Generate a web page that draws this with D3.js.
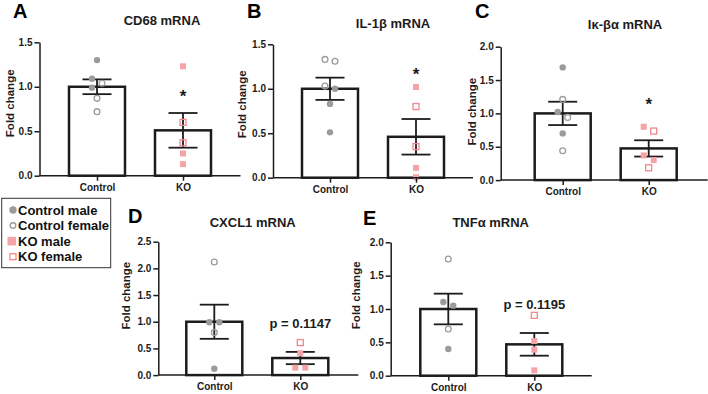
<!DOCTYPE html>
<html>
<head>
<meta charset="utf-8">
<script src="https://cdn.jsdelivr.net/npm/d3@7"></script>
<style>
  body { margin: 0; background: #fff; }
  svg { font-family: "Liberation Sans", Arial, sans-serif; font-weight: bold; }
</style>
</head>
<body>
<div id="chart"></div>
<script>
// ---- data ----
const groups = ["Control", "KO"]
const letters = ["A", "B", "C", "D", "E"]
const titles = ["CD68 mRNA", "IL-1β mRNA", "Iκ-βα mRNA", "CXCL1 mRNA", "TNFα mRNA"]
const yMax = [1.5, 1.5, 2.0, 2.5, 2.0]

const ctrlMean = [1.0, 1.0, 1.0, 1.0, 1.0]
const ctrlSem = [0.083, 0.125, 0.175, 0.32, 0.23]
const koMean = [0.51, 0.46, 0.475, 0.32, 0.47]
const koSem = [0.195, 0.2, 0.122, 0.115, 0.17]

const ctrlMale = [[1.30, 1.09, 0.99], [1.00, 0.83, 0.51], [1.69, 1.02, 0.70], [0.99, 0.99, 0.12], [1.105, 1.05, 0.40]]
const ctrlFemale = [[1.04, 0.87, 0.72], [1.31, 1.33, 1.03], [1.21, 0.94, 0.44], [2.12, 0.80], [1.75, 0.70]]
const koMale = [[1.23, 0.25, 0.13], [1.02, 0.11, 0.005], [0.80, 0.37, 0.30], [0.41, 0.14, 0.14], [0.52, 0.39, 0.08]]
const koFemale = [[0.60, 0.37], [0.80, 0.35], [0.735, 0.185], [0.61], [0.905]]

// significance marks above the KO bar (value = text baseline)
const markText = ["*", "*", "*", "p = 0.1147", "p = 0.1195"]
const markVal = [0.83, 1.10, 1.05, 0.88, 1.0]

const legendLabels = ["Control male", "Control female", "KO male", "KO female"]

// ---- layout ----
const W = 708, H = 394
const panels = [
  {x: 39.5, y: 42.3, w: 201, cx: 57.5, title: [162, 25], letter: [13, 18.3], ylab: [-29.5, 61]},
  {x: 273, y: 44.3, w: 200, cx: 57, title: [393, 28], letter: [247, 18.3], ylab: [-31, 60]},
  {x: 500.7, y: 46.7, w: 207, cx: 62, title: [625, 29], letter: [475, 17.5], ylab: [-28.5, 65]},
  {x: 158.3, y: 241.7, w: 200, cx: 56, title: [252.7, 227], letter: [128, 223], ylab: [-32, 54]},
  {x: 390.7, y: 242.3, w: 201, cx: 57.6, title: [490.7, 227], letter: [363, 225], ylab: [-35, 53]}
]
const plotH = 133.4, step = 86, barW = 56, capW = 29

const gray = "#9b9b9b", pink = "#f4a3a6", pinkLine = "#f0878c", ink = "#1c1c1c"

const svg = d3.select("#chart").append("svg")
  .attr("width", W).attr("height", H)

// spread points that sit on top of each other, like the prism scatter
function spread(pts, y) {
  pts.sort((a, b) => b.v - a.v)
  let cluster = []
  const out = []
  const flush = () => {
    cluster.forEach((p, i) => { p.dx = cluster.length === 1 ? 0 : (i % 2 === 0 ? -5 : 5); out.push(p) })
    cluster = []
  }
  pts.forEach(p => {
    if (cluster.length && y(p.v) - y(cluster[cluster.length - 1].v) >= 7) flush()
    cluster.push(p)
  })
  flush()
  return out
}

panels.forEach((P, i) => {
  const g = svg.append("g").attr("transform", `translate(${P.x},${P.y})`)

  const y = d3.scaleLinear().domain([0, yMax[i]]).range([plotH, 0])
  const x = d3.scalePoint().domain(groups).range([P.cx, P.cx + step])

  const bars = [
    {key: "Control", mean: ctrlMean[i], sem: ctrlSem[i]},
    {key: "KO", mean: koMean[i], sem: koSem[i]}
  ]

  // bars
  g.selectAll("rect.bar").data(bars).join("rect")
    .attr("class", "bar")
    .attr("x", d => x(d.key) - barW / 2)
    .attr("y", d => y(d.mean))
    .attr("width", barW)
    .attr("height", d => y(0) - y(d.mean))
    .attr("fill", "#fff")
    .attr("stroke", ink)
    .attr("stroke-width", 2.5)

  // error bars
  const eb = g.selectAll("g.err").data(bars).join("g").attr("class", "err")
    .attr("stroke", ink).attr("stroke-width", 1.8)
  eb.append("line")
    .attr("x1", d => x(d.key)).attr("x2", d => x(d.key))
    .attr("y1", d => y(d.mean + d.sem)).attr("y2", d => y(d.mean - d.sem))
  eb.append("line")
    .attr("x1", d => x(d.key) - capW / 2).attr("x2", d => x(d.key) + capW / 2)
    .attr("y1", d => y(d.mean + d.sem)).attr("y2", d => y(d.mean + d.sem))
  eb.append("line")
    .attr("x1", d => x(d.key) - capW / 2).attr("x2", d => x(d.key) + capW / 2)
    .attr("y1", d => y(d.mean - d.sem)).attr("y2", d => y(d.mean - d.sem))

  // individual animals
  const ctrlPts = spread([
    ...ctrlMale[i].map(v => ({v, open: false})),
    ...ctrlFemale[i].map(v => ({v, open: true}))
  ], y)
  const koPts = spread([
    ...koMale[i].map(v => ({v, open: false})),
    ...koFemale[i].map(v => ({v, open: true}))
  ], y)

  g.selectAll("circle.pt").data(ctrlPts).join("circle")
    .attr("class", "pt")
    .attr("cx", d => x("Control") + d.dx)
    .attr("cy", d => y(d.v))
    .attr("r", d => d.open ? 2.9 : 3.2)
    .attr("fill", d => d.open ? "none" : gray)
    .attr("stroke", d => d.open ? gray : "none")
    .attr("stroke-width", 1.3)

  g.selectAll("rect.pt").data(koPts).join("rect")
    .attr("class", "pt")
    .attr("x", d => x("KO") + d.dx - 3)
    .attr("y", d => y(d.v) - 3)
    .attr("width", 6).attr("height", 6)
    .attr("fill", d => d.open ? "none" : pink)
    .attr("stroke", d => d.open ? pinkLine : "none")
    .attr("stroke-width", 1.3)

  // axes
  const yAxis = g.append("g")
    .call(d3.axisLeft(y).tickValues(d3.range(0, yMax[i] + 0.01, 0.5))
      .tickFormat(d3.format(".1f")).tickSize(5).tickSizeOuter(0).tickPadding(2))
  yAxis.select(".domain").attr("stroke", ink).attr("stroke-width", 1.5)
  yAxis.selectAll(".tick line").attr("stroke", ink).attr("stroke-width", 1.5)
  yAxis.selectAll(".tick text").attr("fill", ink)
    .style("font-size", "10px").style("font-weight", "bold")

  g.append("line")
    .attr("x1", 0).attr("x2", P.w)
    .attr("y1", plotH).attr("y2", plotH)
    .attr("stroke", ink).attr("stroke-width", 1.5)
  const xAxis = g.append("g").attr("transform", `translate(0,${plotH})`)
    .call(d3.axisBottom(x).tickSize(5).tickSizeOuter(0).tickPadding(3))
  xAxis.select(".domain").remove()
  xAxis.selectAll(".tick line").attr("stroke", ink).attr("stroke-width", 1.5)
  xAxis.selectAll(".tick text").attr("fill", ink)
    .style("font-size", "10px").style("font-weight", "bold")

  // y label
  g.append("text")
    .attr("transform", `translate(${P.ylab[0]},${P.ylab[1]}) rotate(-90)`)
    .attr("text-anchor", "middle")
    .attr("dy", "0.35em")
    .style("font-size", "11.5px")
    .attr("fill", ink)
    .text("Fold change")

  // significance
  g.append("text")
    .attr("x", x("KO"))
    .attr("y", y(markVal[i]))
    .attr("text-anchor", "middle")
    .style("font-size", markText[i] === "*" ? "17px" : "13px")
    .attr("fill", ink)
    .text(markText[i])

  // title and panel letter
  svg.append("text")
    .attr("x", P.title[0]).attr("y", P.title[1])
    .attr("text-anchor", "middle")
    .style("font-size", "13px")
    .attr("fill", ink)
    .text(titles[i])
  svg.append("text")
    .attr("x", P.letter[0]).attr("y", P.letter[1])
    .style("font-size", "20px")
    .attr("fill", "#000")
    .text(letters[i])
})

// legend
const lg = svg.append("g")
lg.append("rect")
  .attr("x", 1.7).attr("y", 198.3)
  .attr("width", 109).attr("height", 69.4)
  .attr("fill", "#fff").attr("stroke", "#333").attr("stroke-width", 1)

const ly = d3.scalePoint().domain(legendLabels).range([210, 256.7])
legendLabels.forEach((lab, k) => {
  const cy = ly(lab)
  if (k === 0) lg.append("circle").attr("cx", 13).attr("cy", cy).attr("r", 3.7).attr("fill", gray)
  if (k === 1) lg.append("circle").attr("cx", 13).attr("cy", cy).attr("r", 2.8)
    .attr("fill", "none").attr("stroke", gray).attr("stroke-width", 1.3)
  if (k === 2) lg.append("rect").attr("x", 7.5).attr("y", cy - 4.3).attr("width", 8.6).attr("height", 8.6).attr("fill", pink)
  if (k === 3) lg.append("rect").attr("x", 10).attr("y", cy - 3).attr("width", 6).attr("height", 6)
    .attr("fill", "none").attr("stroke", pinkLine).attr("stroke-width", 1.3)
  lg.append("text")
    .attr("x", 18).attr("y", cy + 4.6)
    .style("font-size", "13px")
    .attr("fill", "#111")
    .text(lab)
})
</script>
</body>
</html>
